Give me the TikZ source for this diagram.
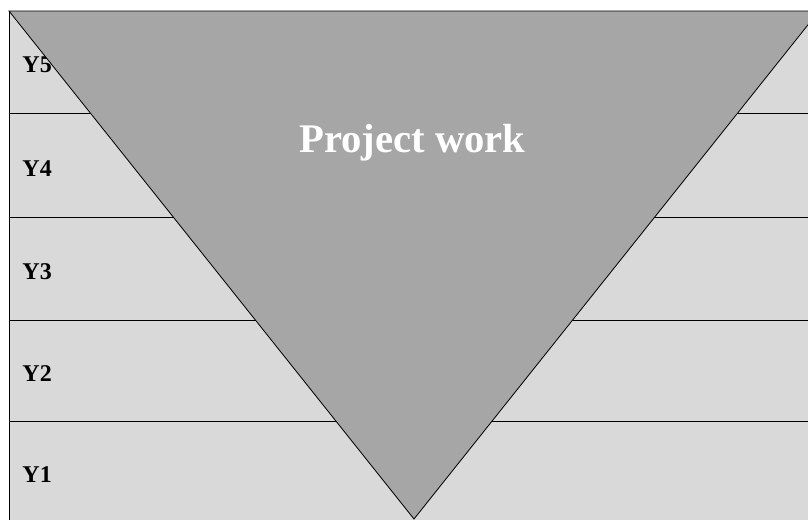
\documentclass[tikz,border=0pt]{standalone}
\usepackage{fontspec}
\setmainfont{Liberation Serif}
\usepackage{tikz}
\definecolor{rowgray}{RGB}{217,217,217}
\definecolor{wedgegray}{RGB}{166,166,166}
\tikzset{
    yearlabel/.style={anchor=base west, inner sep=0pt, font=\bfseries\fontsize{20.5}{20.5}\selectfont},
    titlelabel/.style={anchor=base, inner sep=0pt, text=white, font=\bfseries\fontsize{34.7}{34.7}\selectfont}
}

\begin{document}
\begin{tikzpicture}[x=0.03cm, y=-0.03cm, line width=0.7pt]
    \useasboundingbox (0,0) rectangle (808,519);

    \draw [fill=rowgray] (9,11) rectangle (830,113);
    \draw [fill=rowgray] (9,113) rectangle (830,217);
    \draw [fill=rowgray] (9,217) rectangle (830,320);
    \draw [fill=rowgray] (9,320) rectangle (830,421);
    \draw [fill=rowgray] (9,421) rectangle (830,530);

    \node [yearlabel] (y5) at (22,72) {Y5};
    \node [yearlabel] (y4) at (22,176) {Y4};
    \node [yearlabel] (y3) at (22,279) {Y3};
    \node [yearlabel] (y2) at (22,381) {Y2};
    \node [yearlabel] (y1) at (22,482) {Y1};

    \draw [fill=wedgegray] (9,11) -- (819,11) -- (414,519) -- cycle;
    \node [titlelabel] (project) at (412.5,152) {Project work};
\end{tikzpicture}
\end{document}
